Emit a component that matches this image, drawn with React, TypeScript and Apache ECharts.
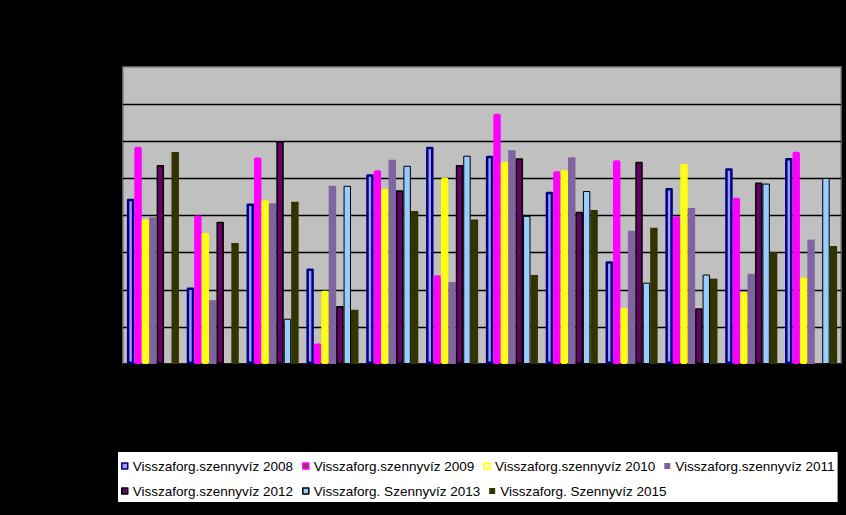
import React, { useEffect, useRef } from "react";
import * as echarts from "echarts";

const categories = [
  "január", "február", "március", "április", "május", "június",
  "július", "augusztus", "szeptember", "október", "november", "december",
];

const seriesNames = [
  "Visszaforg.szennyvíz 2008",
  "Visszaforg.szennyvíz 2009",
  "Visszaforg.szennyvíz 2010",
  "Visszaforg.szennyvíz 2011",
  "Visszaforg.szennyvíz 2012",
  "Visszaforg. Szennyvíz 2013",
  "Visszaforg. Szennyvíz 2015",
];

const v2008 = [4.45, 2.06, 4.32, 2.57, 5.11, 5.85, 5.61, 4.64, 2.77, 4.74, 5.27, 5.55];
const v2009 = [5.85, 4.0, 5.56, 0.55, 5.22, 2.39, 6.74, 5.19, 5.49, 3.98, 4.48, 5.72];
const v2010 = [3.89, 3.53, 4.41, 1.97, 4.72, 5.02, 5.44, 5.22, 1.51, 5.39, 1.93, 2.33];
const v2011 = [3.95, 1.72, 4.33, 4.8, 5.5, 2.21, 5.76, 5.57, 3.59, 4.2, 2.43, 3.35];
const v2012 = [5.36, 3.83, 6.0, 1.56, 4.68, 5.36, 5.54, 4.1, 5.45, 1.5, 4.89, null];
const v2013 = [null, null, 1.22, 4.8, 5.34, 5.61, 3.99, 4.66, 2.19, 2.41, 4.86, 5.01];
const v2015 = [5.71, 3.26, 4.37, 1.46, 4.12, 3.89, 2.4, 4.15, 3.67, 2.3, 3.02, 3.18];

const seriesValues = [v2008, v2009, v2010, v2011, v2012, v2013, v2015];

const fills = ["#9999FF", "#993366", "#FFFFCC", "#8064A2", "#660066", "#99CCFF", "#333300"];
const borders = ["#000080", "#FF00FF", "#FFFF00", "#8064A2", "#000000", "#000000", "#333300"];
const borderWidths = [2.5, 4, 3.5, 0, 1.5, 1, 0];

export default function App() {
  const ref = useRef<HTMLDivElement>(null);

  useEffect(() => {
    document.body.style.margin = "0";
    document.body.style.background = "#000";
    if (!ref.current) return;
    const chart = echarts.init(ref.current, null, { renderer: "svg" });

    const series = seriesNames.map((name, i) => ({
      name,
      type: "bar" as const,
      data: seriesValues[i],
      barGap: "0%",
      barCategoryGap: "13%",
      itemStyle: {
        color: fills[i],
        borderColor: borders[i],
        borderWidth: borderWidths[i],
        borderJoin: "round",
      },
    }));

    chart.setOption({
      animation: false,
      backgroundColor: "#000000",
      grid: {
        left: 123,
        right: 5,
        top: 67,
        bottom: 151,
        show: true,
        backgroundColor: "#C0C0C0",
        borderColor: "#808080",
        borderWidth: 1.5,
      },
      xAxis: {
        type: "category",
        data: categories,
        axisLabel: { show: false },
        axisTick: { show: false },
        axisLine: { show: true, lineStyle: { color: "#000", width: 1.5 } },
      },
      yAxis: {
        type: "value",
        min: 0,
        max: 8,
        interval: 1,
        axisLabel: { show: false },
        axisLine: { show: false },
        axisTick: { show: false },
        splitLine: {
          show: true,
          showMaxLine: false,
          lineStyle: { color: "#000", width: 1.3 },
        },
      },
      legend: {
        left: 118,
        top: 452,
        width: 730,
        orient: "horizontal",
        backgroundColor: "#FFFFFF",
        padding: [6, 3, 3, 3],
        itemGap: 9,
        itemWidth: 6,
        itemHeight: 6,
        icon: "rect",
        textStyle: {
          fontFamily: "'Liberation Sans', Arial, sans-serif",
          fontSize: 13.5,
          color: "#000",
          lineHeight: 16,
        },
        data: seriesNames.map((name, i) => ({
          name,
          itemStyle: {
            color: fills[i],
            borderColor: borders[i],
            borderWidth: borderWidths[i] > 0 ? 1.5 : 0,
          },
        })),
      },
      series,
    });

    return () => chart.dispose();
  }, []);

  return <div ref={ref} style={{ width: 846, height: 515 }} />;
}
